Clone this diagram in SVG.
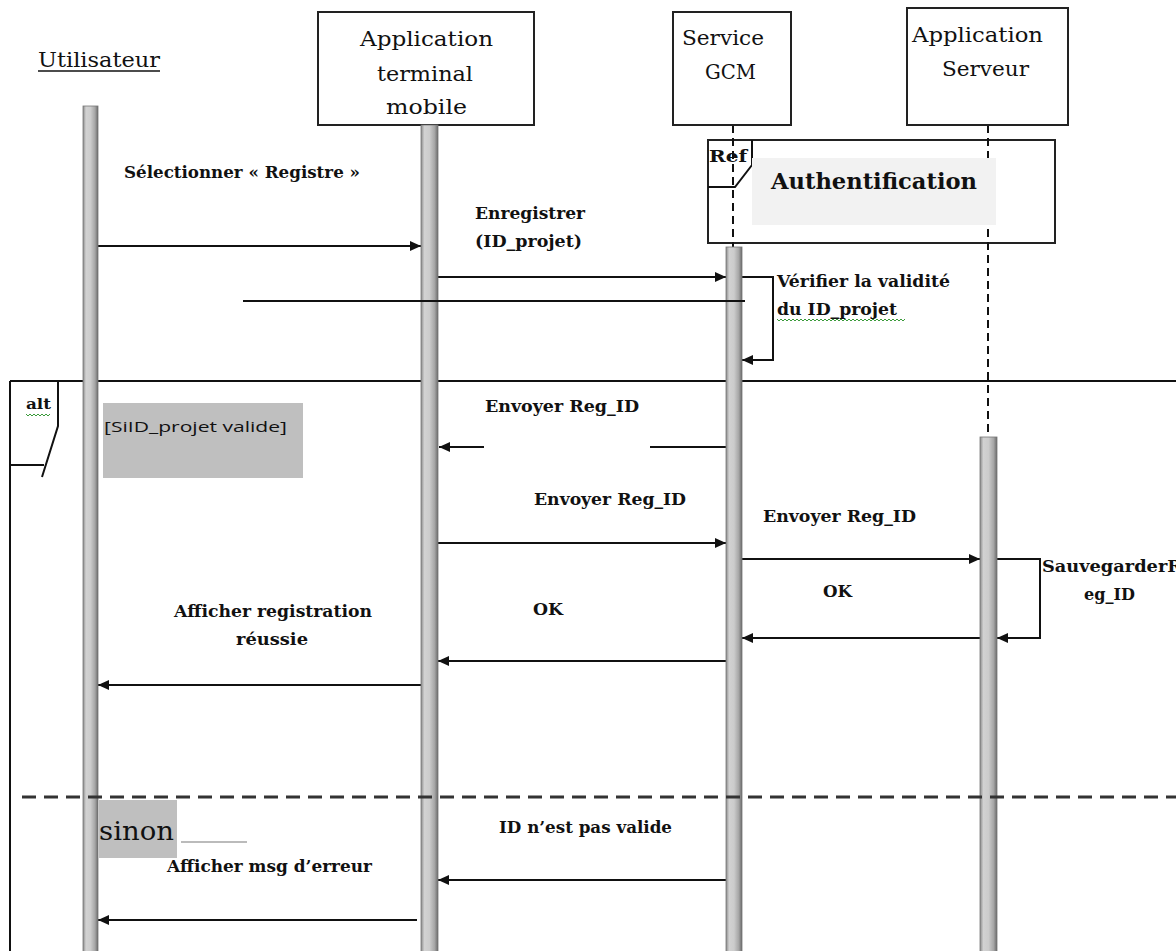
<svg xmlns="http://www.w3.org/2000/svg" width="1176" height="951" viewBox="0 0 1176 951">
<style>
  .box{fill:#fff;stroke:#222;stroke-width:2}
  .serif{font-family:"DejaVu Serif","Liberation Serif","Noto Serif",serif}
  .hdr{font-family:"DejaVu Serif","Liberation Serif",serif;font-size:21px;fill:#111}
  .msg{font-family:"DejaVu Serif","Liberation Serif",serif;font-size:16px;font-weight:bold;fill:#111}
  .ln{stroke:#111;stroke-width:2;fill:none}
  .arr{stroke:#111;stroke-width:2;fill:none;marker-end:url(#ah)}
  .life{stroke:#111;stroke-width:2;stroke-dasharray:8 5;fill:none}
  .bar{fill:url(#barg);stroke:#777;stroke-width:0.8}
  .wavy{stroke:#3a9a3a;stroke-width:1;fill:none}
</style>
<defs>
  <linearGradient id="barg" x1="0" y1="0" x2="1" y2="0">
    <stop offset="0" stop-color="#8a8a8a"/>
    <stop offset="0.2" stop-color="#d2d2d2"/>
    <stop offset="0.5" stop-color="#cccccc"/>
    <stop offset="0.8" stop-color="#a6a6a6"/>
    <stop offset="1" stop-color="#6a6a6a"/>
  </linearGradient>
  <marker id="ah" markerUnits="userSpaceOnUse" markerWidth="12" markerHeight="12" refX="11" refY="6" orient="auto">
    <path d="M0,1 L11,6 L0,11 z" fill="#111"/>
  </marker>
</defs>
<rect width="1176" height="951" fill="#fff"/>

<!-- frames -->
<g id="frames">
  <path class="ln" d="M10,381 H1176 M10,381 V951"/>
  <path class="ln" d="M58,381 V426 L42,477 M10,465 H44"/>
  <text x="26" y="409" class="serif" font-size="14" font-weight="bold" fill="#111" textLength="25" lengthAdjust="spacingAndGlyphs">alt</text>
  <path class="wavy" d="M26,414 l2,2 l2,-2 l2,2 l2,-2 l2,2 l2,-2 l2,2 l2,-2 l2,2 l2,-2 l2,2 l2,-2"/>
  <rect x="103" y="403" width="200" height="75" fill="#bfbfbf"/>
  <text x="104" y="432" font-family="'Open Sans','Liberation Sans',sans-serif" font-size="15" fill="#111" textLength="183" lengthAdjust="spacingAndGlyphs">[SiID_projet  valide]</text>
  <rect x="99" y="800" width="78" height="58" fill="#bfbfbf"/>
  <text x="99" y="840" class="serif" font-size="26" fill="#111" textLength="75" lengthAdjust="spacingAndGlyphs">sinon</text>
  <line x1="181" y1="842" x2="247" y2="842" stroke="#bbb" stroke-width="2"/>
</g>

<!-- ref frame -->
<g id="ref">
  <rect x="708" y="140" width="347" height="103" fill="none" stroke="#222" stroke-width="2"/>
  <path class="ln" d="M752,140 V165 L735,187 H708"/>
  <line class="life" x1="988" y1="125" x2="988" y2="437"/>
  <rect x="752" y="158" width="244" height="67" fill="#f2f2f2"/>
  <text x="709" y="162" class="serif" font-size="16" font-weight="bold" fill="#111" textLength="38" lengthAdjust="spacingAndGlyphs">Ref</text>
  <text x="771" y="189" class="serif" font-size="22" font-weight="bold" fill="#111" textLength="206" lengthAdjust="spacingAndGlyphs">Authentification</text>
  <line class="life" x1="733" y1="125" x2="733" y2="247"/>
</g>

<!-- lifeline heads -->
<g id="utilisateur">
  <text x="38" y="67" class="hdr" textLength="122" lengthAdjust="spacingAndGlyphs">Utilisateur</text>
  <line x1="38" y1="71" x2="160" y2="71" stroke="#111" stroke-width="1.5"/>
</g>
<g id="app-mobile">
  <rect class="box" x="318" y="12" width="216" height="113"/>
  <text x="360" y="46" class="hdr" textLength="133" lengthAdjust="spacingAndGlyphs">Application</text>
  <text x="377" y="81" class="hdr" textLength="96" lengthAdjust="spacingAndGlyphs">terminal</text>
  <text x="386" y="114" class="hdr" textLength="81" lengthAdjust="spacingAndGlyphs">mobile</text>
</g>
<g id="service-gcm">
  <rect class="box" x="673" y="12" width="118" height="113"/>
  <text x="682" y="45" class="hdr" textLength="82" lengthAdjust="spacingAndGlyphs">Service</text>
  <text x="705" y="79" class="hdr" textLength="51" lengthAdjust="spacingAndGlyphs">GCM</text>
</g>
<g id="app-serveur">
  <rect class="box" x="907" y="8" width="161" height="117"/>
  <text x="912" y="42" class="hdr" textLength="131" lengthAdjust="spacingAndGlyphs">Application</text>
  <text x="942" y="76" class="hdr" textLength="87" lengthAdjust="spacingAndGlyphs">Serveur</text>
</g>

<!-- connectors -->
<g id="connectors">
  <line class="arr" x1="98" y1="246" x2="421" y2="246"/>
  <line class="arr" x1="438" y1="277" x2="726" y2="277"/>
  <path class="arr" d="M742,277 H773 V360 H742"/>
  <line class="arr" x1="484" y1="447" x2="439" y2="447"/>
  <line class="ln" x1="650" y1="447" x2="726" y2="447"/>
  <line class="arr" x1="438" y1="543" x2="726" y2="543"/>
  <line class="arr" x1="742" y1="559" x2="980" y2="559"/>
  <path class="arr" d="M997,559 H1040 V638 H997"/>
  <line class="arr" x1="980" y1="638" x2="742" y2="638"/>
  <line class="arr" x1="726" y1="661" x2="438" y2="661"/>
  <line class="arr" x1="421" y1="685" x2="98" y2="685"/>
  <line class="arr" x1="726" y1="880" x2="438" y2="880"/>
  <line class="arr" x1="417" y1="920" x2="98" y2="920"/>
</g>

<!-- activation bars -->
<g id="bars">
  <rect class="bar" x="83" y="106" width="15" height="850"/>
  <rect class="bar" x="421" y="125" width="17" height="830"/>
  <rect class="bar" x="726" y="247" width="16" height="710"/>
  <rect class="bar" x="980" y="437" width="17" height="520"/>
</g>

<g id="overlay">
  <line class="ln" x1="243" y1="301" x2="745" y2="301"/>
  <line x1="22" y1="797" x2="1176" y2="797" stroke="#333" stroke-width="3" stroke-dasharray="14 8"/>
</g>

<!-- labels -->
<g id="labels">
  <text x="124" y="178" class="msg" textLength="236" lengthAdjust="spacingAndGlyphs">Sélectionner « Registre »</text>
  <text x="475" y="219" class="msg" textLength="110" lengthAdjust="spacingAndGlyphs">Enregistrer</text>
  <text x="475" y="247" class="msg" textLength="107" lengthAdjust="spacingAndGlyphs">(ID_projet)</text>
  <text x="777" y="287" class="msg" textLength="173" lengthAdjust="spacingAndGlyphs">Vérifier la validité</text>
  <text x="777" y="315" class="msg" textLength="120" lengthAdjust="spacingAndGlyphs">du ID_projet</text>
  <path class="wavy" d="M777,319 l2,2 l2,-2 l2,2 l2,-2 l2,2 l2,-2 l2,2 l2,-2 l2,2 l2,-2 l2,2 l2,-2 l2,2 l2,-2 l2,2 l2,-2 l2,2 l2,-2 l2,2 l2,-2 l2,2 l2,-2 l2,2 l2,-2 l2,2 l2,-2 l2,2 l2,-2 l2,2 l2,-2 l2,2 l2,-2 l2,2 l2,-2 l2,2 l2,-2 l2,2 l2,-2 l2,2 l2,-2 l2,2 l2,-2 l2,2 l2,-2 l2,2 l2,-2 l2,2 l2,-2 l2,2 l2,-2 l2,2 l2,-2 l2,2 l2,-2 l2,2 l2,-2 l2,2 l2,-2 l2,2 l2,-2 l2,2 l2,-2 l2,2 l2,-2"/>
  <text x="485" y="412" class="msg" textLength="154" lengthAdjust="spacingAndGlyphs">Envoyer Reg_ID</text>
  <text x="534" y="505" class="msg" textLength="152" lengthAdjust="spacingAndGlyphs">Envoyer Reg_ID</text>
  <text x="763" y="522" class="msg" textLength="153" lengthAdjust="spacingAndGlyphs">Envoyer Reg_ID</text>
  <text x="1042" y="572" class="msg" textLength="140" lengthAdjust="spacingAndGlyphs">SauvegarderR</text>
  <text x="1084" y="600" class="msg" textLength="51" lengthAdjust="spacingAndGlyphs">eg_ID</text>
  <text x="823" y="597" class="msg" textLength="29" lengthAdjust="spacingAndGlyphs">OK</text>
  <text x="533" y="615" class="msg" textLength="30" lengthAdjust="spacingAndGlyphs">OK</text>
  <text x="174" y="617" class="msg" textLength="198" lengthAdjust="spacingAndGlyphs">Afficher registration</text>
  <text x="236" y="645" class="msg" textLength="72" lengthAdjust="spacingAndGlyphs">réussie</text>
  <text x="499" y="833" class="msg" textLength="173" lengthAdjust="spacingAndGlyphs">ID n’est pas valide</text>
  <text x="167" y="872" class="msg" textLength="205" lengthAdjust="spacingAndGlyphs">Afficher msg d’erreur</text>
</g>
</svg>
